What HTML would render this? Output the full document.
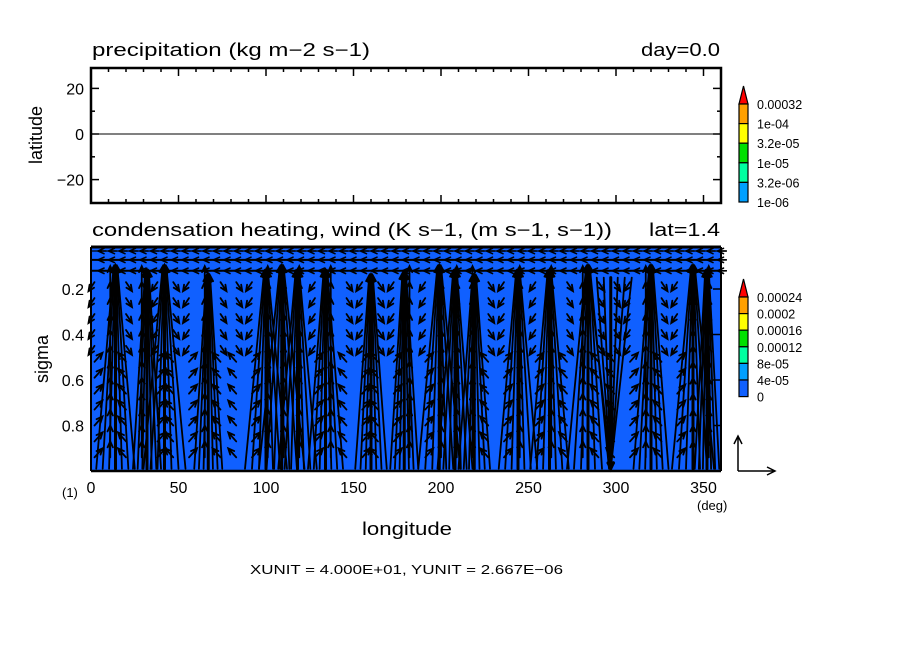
<!DOCTYPE html>
<html><head><meta charset="utf-8"><style>
body{margin:0;background:#fff}
svg text{font-family:"Liberation Sans",sans-serif;fill:#000}
</style></head><body>
<svg id="svg" width="904" height="654" viewBox="0 0 904 654" xmlns="http://www.w3.org/2000/svg">
<rect width="904" height="654" fill="#fff"/>
<g id="topPanel"></g>
<g id="botPanel"></g>
<g id="legPanel"></g>
<text x="92" y="56" font-size="18" textLength="278" lengthAdjust="spacingAndGlyphs">precipitation (kg m−2 s−1)</text>
<text x="641" y="56" font-size="18" textLength="79" lengthAdjust="spacingAndGlyphs">day=0.0</text>
<text x="92" y="236" font-size="18" textLength="520" lengthAdjust="spacingAndGlyphs">condensation heating, wind (K s−1, (m s−1, s−1))</text>
<text x="649" y="236" font-size="18" textLength="71" lengthAdjust="spacingAndGlyphs">lat=1.4</text>
<text transform="translate(42,135) rotate(-90)" text-anchor="middle" font-size="18">latitude</text>
<text transform="translate(48,359) rotate(-90)" text-anchor="middle" font-size="18">sigma</text>
<text x="407" y="535" text-anchor="middle" font-size="18" textLength="90" lengthAdjust="spacingAndGlyphs">longitude</text>
<text x="62" y="497" font-size="13">(1)</text>
<text x="697" y="510" font-size="13">(deg)</text>
<text x="250" y="574" font-size="13" textLength="313" lengthAdjust="spacingAndGlyphs">XUNIT = 4.000E+01, YUNIT = 2.667E−06</text>
</svg>
<script>
const NS='http://www.w3.org/2000/svg';
const xTicks=[0,50,100,150,200,250,300,350];
const latTicks=[20,0,-20];
const sigTicks=[0.2,0.4,0.6,0.8];
const sigTickLabels=['0.2','0.4','0.6','0.8'];
// plume data: longitude, apex sigma, half-width (deg) at base
const plumeLon=[14,32,42,67,100,109,118,134,160,179,199,208,219,244,262,284,320,344,352];
const plumeTop=[0.1,0.12,0.1,0.14,0.12,0.1,0.12,0.12,0.14,0.13,0.1,0.12,0.14,0.12,0.12,0.1,0.1,0.1,0.12];
const plumeWidth=[11,8,12,8,12,13,11,10,9,8,12,10,9,11,11,12,10,12,7];
const downLon=[297];
const upperRows=[0.033,0.072,0.12];
const precipLevels=['0.00032','1e-04','3.2e-05','1e-05','3.2e-06','1e-06'];
const heatLevels=['0.00024','0.0002','0.00016','0.00012','8e-05','4e-05','0'];

const X0=91,X1=721;
const xs=l=>X0+(X1-X0)*l/360;
const yLat=v=>134-v*2.28;
const T0=247,T1=471;
const ys=s=>T1-(1-s)*227.5;
function el(p,tag,at,name){const e=document.createElementNS(NS,tag);for(const k in at)e.setAttribute(k,at[k]);


p.appendChild(e);return e;}
function txt(p,x,y,s,anchor,size,name){const t=el(p,'text',{x:x,y:y,'text-anchor':anchor,'font-size':size},name);t.textContent=s;return t;}
const gTop=document.getElementById('topPanel'),gBot=document.getElementById('botPanel'),gLeg=document.getElementById('legPanel');

el(gTop,'rect',{x:X0,y:68,width:X1-X0,height:203-68,fill:'#fff',stroke:'#000','stroke-width':2.5},'top-frame');
el(gTop,'line',{x1:X0,x2:X1,y1:yLat(0),y2:yLat(0),stroke:'#000','stroke-width':1},'equator-line');
for(let l=0;l<=360;l+=10){const maj=l%50==0;const len=maj?8:4;
el(gTop,'line',{x1:xs(l),x2:xs(l),y1:68,y2:68+len,stroke:'#000','stroke-width':1.5},'top-x-tick');
el(gTop,'line',{x1:xs(l),x2:xs(l),y1:203,y2:203-len,stroke:'#000','stroke-width':1.5},'top-x-tick');}
for(let v=-20;v<=20;v+=10){const maj=v%20==0;const len=maj?8:4;
el(gTop,'line',{x1:X0,x2:X0+len,y1:yLat(v),y2:yLat(v),stroke:'#000','stroke-width':1.5},'lat-tick');
el(gTop,'line',{x1:X1,x2:X1-len,y1:yLat(v),y2:yLat(v),stroke:'#000','stroke-width':1.5},'lat-tick');}
latTicks.forEach(v=>txt(gTop,84,yLat(v)+6,v<0?'−'+(-v):String(v),'end',16,'lat-tick-label'));

el(gBot,'rect',{x:X0,y:T0,width:X1-X0,height:T1-T0,fill:'#1060ff'},'heating-fill');
const ag=el(gBot,'g',{stroke:'#000',fill:'none','stroke-linecap':'round'},'wind-vectors');
function arrow(x1,y1,x2,y2,w){const dx=x2-x1,dy=y2-y1,L=Math.hypot(dx,dy);if(L<1)return;
const ux=dx/L,uy=dy/L,h=Math.min(6,L*0.5+2);
el(ag,'path',{d:`M${x1},${y1}L${x2},${y2}M${x2-h*ux+h*0.45*uy},${y2-h*uy-h*0.45*ux}L${x2},${y2}L${x2-h*ux-h*0.45*uy},${y2-h*uy+h*0.45*ux}`,'stroke-width':w},'wind-arrow');}
const cols=[];for(let l=2;l<360;l+=9)cols.push(l);
const lev=[0.17,0.24,0.31,0.38,0.45,0.52,0.59,0.66,0.73,0.8,0.87,0.94];
cols.forEach(l=>{let best=plumeLon[0];plumeLon.forEach(p=>{if(Math.abs(p-l)<Math.abs(best-l))best=p;});
lev.forEach(s=>{const d=best-l;const dir=Math.sign(d)||1;const near=Math.abs(d)<4;
const vx=near?0:dir*(s>0.5?8:-6);const vy=near?-16:(s>0.5?-9:9);
arrow(xs(l),ys(s),xs(l)+vx,ys(s)+vy,1.8);});});
plumeLon.forEach((l,i)=>{const ax=xs(l),ay=ys(plumeTop[i]);
for(let k=-3;k<=3;k++){const bx=xs(l+plumeWidth[i]*k/3),by=ys(0.99);
arrow(bx,by,ax+k*0.6,ay,k==0?3:1.8);}});
downLon.forEach(l=>{for(let k=-3;k<=3;k++){const bx=xs(l+k*4);arrow(bx,ys(0.15),xs(l),ys(0.99),k==0?3:1.8);}});
upperRows.forEach(s=>{const y=ys(s);el(ag,'line',{x1:X0,x2:X1,y1:y,y2:y,'stroke-width':s>0.05?2:1.2},'upper-flow-line');
for(let l=4;l<360;l+=6)arrow(xs(l)+8,y,xs(l),y,1.6);});
el(gBot,'line',{x1:X0,x2:X1,y1:T0,y2:T0,stroke:'#000','stroke-width':3},'bottom-frame-top');
el(gBot,'line',{x1:X0,x2:X1,y1:T1,y2:T1,stroke:'#000','stroke-width':2.5},'bottom-frame-bottom');
el(gBot,'line',{x1:X0,x2:X0,y1:T0,y2:T1,stroke:'#000','stroke-width':2},'bottom-frame-left');
el(gBot,'line',{x1:X1,x2:X1,y1:T0,y2:T1,stroke:'#000','stroke-width':2},'bottom-frame-right');
sigTicks.forEach(s=>{el(gBot,'line',{x1:X1,x2:X1-8,y1:ys(s),y2:ys(s),stroke:'#000','stroke-width':1.5},'sigma-tick');});
upperRows.forEach(s=>{el(gBot,'line',{x1:X1,x2:X1+6,y1:ys(s),y2:ys(s),stroke:'#000','stroke-width':1.5},'sigma-tick-right');});
sigTicks.forEach((s,i)=>txt(gBot,84,ys(s)+6,sigTickLabels[i],'end',16,'sigma-tick-label'));
xTicks.forEach(l=>txt(gBot,xs(l),493,String(l),'middle',16,'x-tick-label'));

const pc=['#ffa000','#ffff00','#00e000','#00ffa0','#00a0ff'];
function colorbar(y0,h,colors,labels,nm){
el(gLeg,'path',{d:`M739,${y0}L743.5,${y0-18}L748,${y0}Z`,fill:'#ff0000',stroke:'#000','stroke-width':1.2},nm+'-triangle');
colors.forEach((c,i)=>el(gLeg,'rect',{x:739,y:y0+i*h,width:9,height:h,fill:c,stroke:'#000','stroke-width':1.2},nm+'-box'));
labels.forEach((t,i)=>txt(gLeg,757,y0+i*h+5,t,'start',12.5,nm+'-label'));}
colorbar(104,19.6,pc,precipLevels,'precip-legend');
colorbar(297,16.6,['#ffa000','#ffff00','#00e000','#00ffa0','#00a0ff','#1060ff'],heatLevels,'heating-legend');
el(gLeg,'path',{d:'M738,471L738,436M734,444L738,436L742,444M738,471L775,471M767,467L775,471L767,475',stroke:'#000','stroke-width':1.5,fill:'none'},'reference-vector');
</script>
</body></html>
